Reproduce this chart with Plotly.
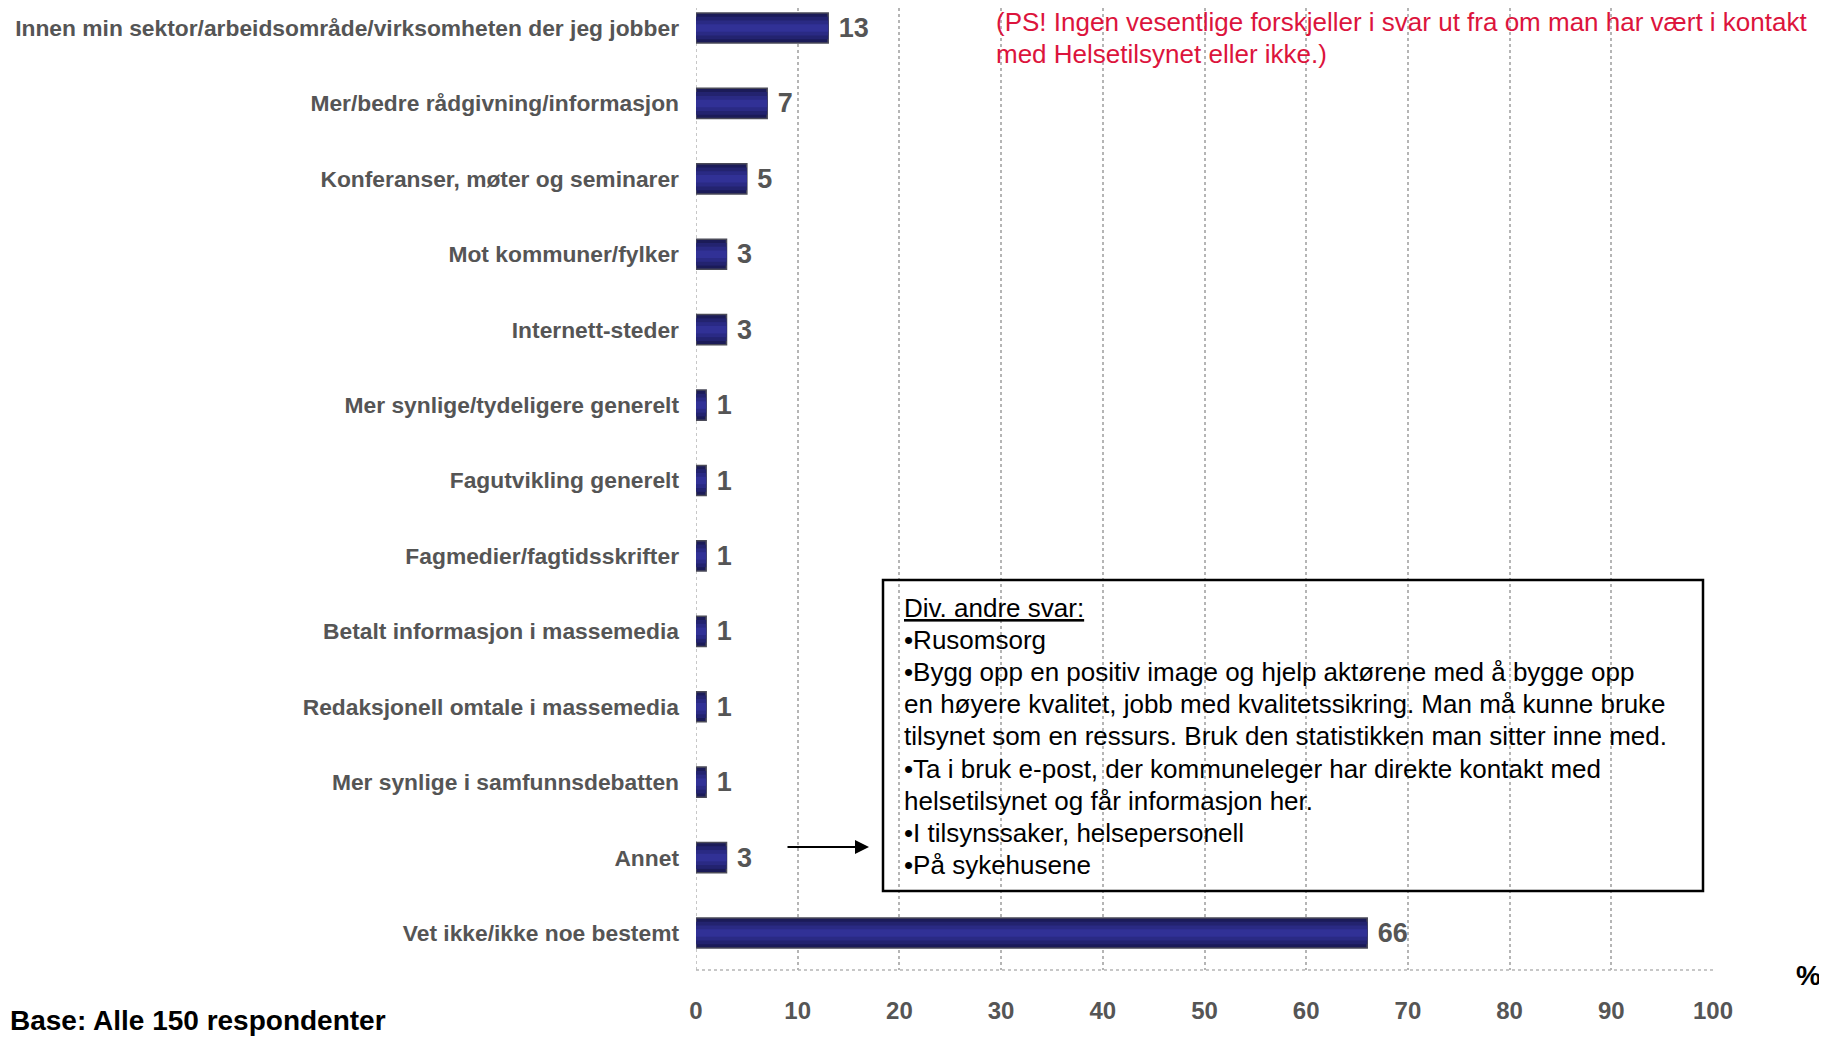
import plotly.graph_objects as go

OFF = 8  # page body margin of the html page
W, H = 1827 - OFF, 1038 - OFF
# plot area in reference-image pixels
L_IMG, R_IMG, B_IMG = 696, 1713, 970
TOP_CENTER_IMG, BOT_CENTER_IMG = 28, 933

categories = [
    "Innen min sektor/arbeidsområde/virksomheten der jeg jobber",
    "Mer/bedre rådgivning/informasjon",
    "Konferanser, møter og seminarer",
    "Mot kommuner/fylker",
    "Internett-steder",
    "Mer synlige/tydeligere generelt",
    "Fagutvikling generelt",
    "Fagmedier/fagtidsskrifter",
    "Betalt informasjon i massemedia",
    "Redaksjonell omtale i massemedia",
    "Mer synlige i samfunnsdebatten",
    "Annet",
    "Vet ikke/ikke noe bestemt",
]
values = [13, 7, 5, 3, 3, 1, 1, 1, 1, 1, 1, 3, 66]
x_ticks = [0, 10, 20, 30, 40, 50, 60, 70, 80, 90, 100]

note_lines = [
    "(PS! Ingen vesentlige forskjeller i svar ut fra om man har vært i kontakt",
    "med Helsetilsynet eller ikke.)",
]
box_lines = [
    "<u>Div. andre svar:</u>",
    "•Rusomsorg",
    "•Bygg opp en positiv image og hjelp aktørene med å bygge opp",
    "en høyere kvalitet, jobb med kvalitetssikring. Man må kunne bruke",
    "tilsynet som en ressurs. Bruk den statistikken man sitter inne med.",
    "•Ta i bruk e-post, der kommuneleger har direkte kontakt med",
    "helsetilsynet og får informasjon her.",
    "•I tilsynssaker, helsepersonell",
    "•På sykehusene",
]

L = L_IMG - OFF
R_PX = R_IMG - OFF
B_PX = B_IMG - OFF
T = 0


def px_x(px):
    return (px - OFF - L) / (R_PX - L)


def px_y(py):
    return (B_PX - (py - OFF)) / (B_PX - T)


FONT = "Arial, Liberation Sans, sans-serif"
GRAY = "#555555"

fig = go.Figure()
# outer bar (darker edges) with labels
fig.add_trace(go.Bar(
    x=values, y=categories, orientation="h", width=0.4,
    marker=dict(color="#1b1b58", line=dict(color="#4a4a58", width=1.5)),
    text=["\u00a0" + str(v) for v in values],
    textposition="outside", cliponaxis=False,
    textfont=dict(family=FONT, size=27, color=GRAY, weight="bold"),
))
# inner bands to mimic the vertical gradient of the original bars
for w, c in [(0.3, "#23236f"), (0.2, "#2a2a84"), (0.1, "#313196")]:
    fig.add_trace(go.Bar(
        x=values, y=categories, orientation="h", width=w,
        marker=dict(color=c, line=dict(width=0)),
        hoverinfo="skip",
    ))

n = len(categories)
spacing = (BOT_CENTER_IMG - TOP_CENTER_IMG) / (n - 1)
y_top = -((TOP_CENTER_IMG - OFF) - T) / spacing
y_bot = (n - 1) + (B_IMG - BOT_CENTER_IMG) / spacing
fig.update_yaxes(
    type="category",
    categoryorder="array",
    categoryarray=categories,
    range=[y_bot, y_top],
    showgrid=False,
    zeroline=False,
    showline=False,
    ticks="",
    ticklabelstandoff=16,
    tickfont=dict(family=FONT, size=22.8, color=GRAY, weight="bold"),
)
fig.update_xaxes(
    range=[0, 100],
    tickvals=x_ticks,
    showgrid=True,
    gridcolor="#b5b5b5",
    griddash="dot",
    gridwidth=1.5,
    zeroline=False,
    showline=False,
    ticks="",
    ticklabelstandoff=24,
    tickfont=dict(family=FONT, size=24, color=GRAY, weight="bold"),
)

# dotted axis line at bottom
fig.add_shape(type="line", xref="x", yref="paper", x0=0, x1=100, y0=0, y1=0,
              line=dict(color="#b5b5b5", width=1.5, dash="dot"))
# vertical line at 0
fig.add_shape(type="line", xref="x", yref="paper", x0=0, x1=0, y0=0, y1=1,
              line=dict(color="#b5b5b5", width=1.5, dash="dot"), layer="below")

# text box
fig.add_shape(type="rect", xref="paper", yref="paper",
              x0=px_x(883), x1=px_x(1703), y0=px_y(891), y1=px_y(580),
              line=dict(color="black", width=2.5), fillcolor="rgba(0,0,0,0)")
for i, line in enumerate(box_lines):
    fig.add_annotation(xref="paper", yref="paper", x=px_x(902), y=px_y(608 + i * 32.1),
                       text=line, showarrow=False, xanchor="left", yanchor="middle",
                       font=dict(family=FONT, size=26, color="black"))

# arrow
fig.add_annotation(xref="paper", yref="paper", axref="pixel", ayref="pixel",
                   x=px_x(869), y=px_y(847), ax=-83, ay=0,
                   text="", showarrow=True, arrowhead=2, arrowsize=1.4, arrowwidth=2,
                   arrowcolor="black")

# red note
for i, line in enumerate(note_lines):
    fig.add_annotation(xref="paper", yref="paper", x=px_x(994), y=px_y(22 + i * 32),
                       text=line, showarrow=False, xanchor="left", yanchor="middle",
                       font=dict(family=FONT, size=26, color="#dc143c"))

# % label
fig.add_annotation(xref="paper", yref="paper", x=px_x(1808), y=px_y(975),
                   text="<b>%</b>", showarrow=False, xanchor="center", yanchor="middle",
                   font=dict(family=FONT, size=28, color="black"))
# base note
fig.add_annotation(xref="paper", yref="paper", x=px_x(OFF), y=px_y(1021),
                   text="<b>Base: Alle 150 respondenter</b>", showarrow=False,
                   xanchor="left", yanchor="middle",
                   font=dict(family=FONT, size=28, color="black"))

fig.update_layout(
    width=W, height=H,
    margin=dict(l=L, r=W - R_PX, t=T, b=H - B_PX, autoexpand=False),
    paper_bgcolor="white", plot_bgcolor="white",
    showlegend=False,
    barmode="overlay",
)

fig.write_html("out.html")
